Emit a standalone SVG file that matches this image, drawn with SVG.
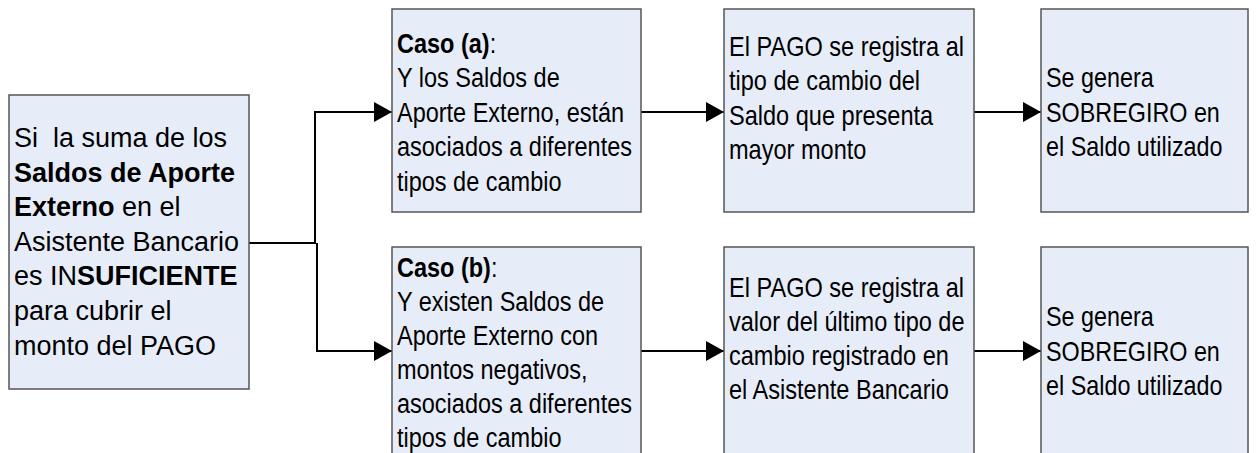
<svg xmlns="http://www.w3.org/2000/svg" width="1256" height="453" viewBox="0 0 1256 453">
<style>
.box{fill:#E7EDF8;stroke:#555;stroke-width:1.5}
.t{font-family:"Liberation Sans",Arial,sans-serif;font-size:27px;fill:#000}
.b{font-weight:bold}
.c{fill:none;stroke:#000;stroke-width:2}
</style>
<defs>
<marker id="ah" markerUnits="userSpaceOnUse" markerWidth="18" markerHeight="20" refX="18" refY="10" orient="auto">
<path d="M0,0 L18,10 L0,20 Z" fill="#000"/>
</marker>
</defs>
<rect width="1256" height="453" fill="#fff"/>
<g id="connectors">
<path class="c" d="M249,243 H316 M315,112 V243 M317,243 V351"/>
<path class="c" d="M314,112 H392" marker-end="url(#ah)"/>
<path class="c" d="M316,351 H392" marker-end="url(#ah)"/>
<path class="c" d="M641,112 H724" marker-end="url(#ah)"/>
<path class="c" d="M641,351 H724" marker-end="url(#ah)"/>
<path class="c" d="M974,112 H1041" marker-end="url(#ah)"/>
<path class="c" d="M974,351 H1041" marker-end="url(#ah)"/>
</g>
<g id="condicion">
<rect class="box" x="9" y="95" width="240" height="294"/>
<text class="t" x="14" y="147">Si&#160; la suma de los</text>
<text class="t b" x="14" y="181.6">Saldos de Aporte</text>
<text class="t" x="14" y="216.2"><tspan class="b">Externo</tspan> en el</text>
<text class="t" x="14" y="250.8">Asistente Bancario</text>
<text class="t" x="14" y="285.4">es IN<tspan class="b">SUFICIENTE</tspan></text>
<text class="t" x="14" y="320">para cubrir el</text>
<text class="t" x="14" y="354.6">monto del PAGO</text>
</g>
<g id="caso-a">
<rect class="box" x="392" y="9" width="249" height="203"/>
<g transform="translate(397,0) scale(0.87,1)">
<text class="t" x="0" y="53"><tspan class="b">Caso (a)</tspan>:</text>
<text class="t" x="0" y="87.5">Y los Saldos de</text>
<text class="t" x="0" y="122">Aporte Externo, están</text>
<text class="t" x="0" y="156.5">asociados a diferentes</text>
<text class="t" x="0" y="191">tipos de cambio</text>
</g>
</g>
<g id="caso-b">
<rect class="box" x="392" y="247" width="249" height="220"/>
<g transform="translate(397,0) scale(0.87,1)">
<text class="t" x="0" y="277"><tspan class="b">Caso (b)</tspan>:</text>
<text class="t" x="0" y="311">Y existen Saldos de</text>
<text class="t" x="0" y="345">Aporte Externo con</text>
<text class="t" x="0" y="379">montos negativos,</text>
<text class="t" x="0" y="413">asociados a diferentes</text>
<text class="t" x="0" y="447">tipos de cambio</text>
</g>
</g>
<g id="pago-a">
<rect class="box" x="724" y="9" width="250" height="203"/>
<g transform="translate(729,0) scale(0.872,1)">
<text class="t" x="0" y="56">El PAGO se registra al</text>
<text class="t" x="0" y="90.5">tipo de cambio del</text>
<text class="t" x="0" y="125">Saldo que presenta</text>
<text class="t" x="0" y="159.5">mayor monto</text>
</g>
</g>
<g id="pago-b">
<rect class="box" x="724" y="247" width="250" height="220"/>
<g transform="translate(729,0) scale(0.872,1)">
<text class="t" x="0" y="297">El PAGO se registra al</text>
<text class="t" x="0" y="331">valor del último tipo de</text>
<text class="t" x="0" y="365">cambio registrado en</text>
<text class="t" x="0" y="399">el Asistente Bancario</text>
</g>
</g>
<g id="sobregiro-a">
<rect class="box" x="1041" y="9" width="207" height="203"/>
<g transform="translate(1046,0) scale(0.865,1)">
<text class="t" x="0" y="87.5">Se genera</text>
<text class="t" x="0" y="122">SOBREGIRO en</text>
<text class="t" x="0" y="156.5">el Saldo utilizado</text>
</g>
</g>
<g id="sobregiro-b">
<rect class="box" x="1041" y="247" width="207" height="220"/>
<g transform="translate(1046,0) scale(0.865,1)">
<text class="t" x="0" y="326.5">Se genera</text>
<text class="t" x="0" y="361">SOBREGIRO en</text>
<text class="t" x="0" y="395.5">el Saldo utilizado</text>
</g>
</g>
</svg>
